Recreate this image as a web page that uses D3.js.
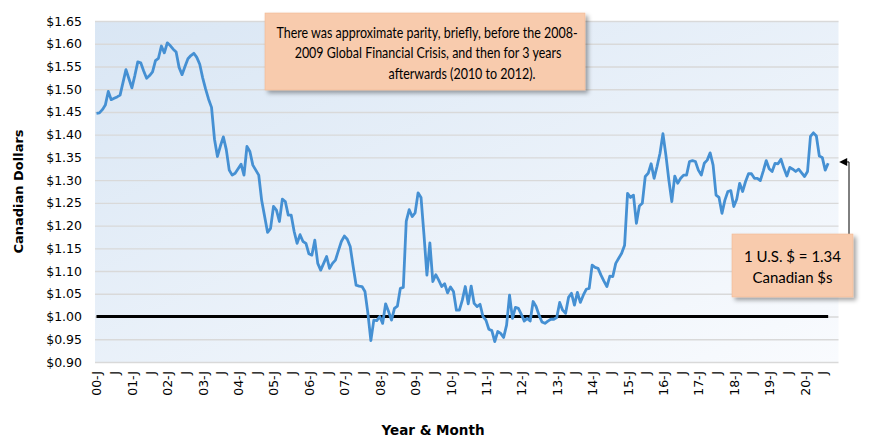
<!DOCTYPE html>
<html>
<head>
<meta charset="utf-8">
<script src="https://cdn.jsdelivr.net/npm/d3@7"></script>
<style>
  body { margin: 0; background: #fff; }
  svg { display: block; }
</style>
</head>
<body>
<div id="chart-container"></div>
<script>
(function() {
  'use strict';

// years on the category axis (monthly points, Jan 2000 .. Dec 2020 slots)
const years = [2000, 2001, 2002, 2003, 2004, 2005, 2006, 2007, 2008, 2009, 2010,
               2011, 2012, 2013, 2014, 2015, 2016, 2017, 2018, 2019, 2020];
const monthInitials = ['J', 'F', 'M', 'A', 'M', 'J', 'J', 'A', 'S', 'O', 'N', 'D'];

// Canadian dollars per U.S. dollar, one value per month from Jan 2000
const rates = [
  1.447, 1.448, 1.455, 1.465, 1.495, 1.477, 1.480, 1.483, 1.487, 1.515, 1.543, 1.523, // 2000
  1.503, 1.530, 1.560, 1.558, 1.540, 1.524, 1.530, 1.538, 1.563, 1.568, 1.595, 1.580, // 2001
  1.602, 1.596, 1.588, 1.582, 1.548, 1.532, 1.550, 1.567, 1.574, 1.579, 1.570, 1.555, // 2002
  1.525, 1.500, 1.478, 1.460, 1.390, 1.352, 1.375, 1.395, 1.367, 1.322, 1.311, 1.315, // 2003
  1.325, 1.335, 1.311, 1.374, 1.363, 1.333, 1.322, 1.311, 1.255, 1.220, 1.185, 1.194, // 2004
  1.242, 1.234, 1.209, 1.258, 1.253, 1.223, 1.223, 1.187, 1.161, 1.180, 1.165, 1.161, // 2005
  1.138, 1.135, 1.168, 1.117, 1.102, 1.117, 1.132, 1.106, 1.117, 1.124, 1.145, 1.165, // 2006
  1.177, 1.170, 1.154, 1.110, 1.069, 1.067, 1.066, 1.055, 1.007, 0.947, 0.992, 0.991, // 2007
  1.000, 0.985, 1.028, 1.011, 0.992, 1.018, 1.023, 1.062, 1.064, 1.210, 1.235, 1.220, // 2008
  1.228, 1.272, 1.262, 1.180, 1.091, 1.162, 1.077, 1.092, 1.080, 1.066, 1.072, 1.052, // 2009
  1.065, 1.055, 1.014, 1.014, 1.036, 1.066, 1.028, 1.067, 1.029, 1.022, 1.027, 1.000, // 2010
  0.992, 0.972, 0.969, 0.945, 0.967, 0.963, 0.954, 0.981, 1.047, 0.996, 1.020, 1.018, // 2011
  1.005, 0.990, 0.996, 0.990, 1.033, 1.022, 1.003, 0.988, 0.985, 0.990, 0.994, 0.994, // 2012
  0.998, 1.031, 1.014, 1.007, 1.042, 1.051, 1.025, 1.053, 1.031, 1.047, 1.060, 1.062, // 2013
  1.113, 1.108, 1.106, 1.091, 1.078, 1.066, 1.089, 1.088, 1.117, 1.128, 1.139, 1.157, // 2014
  1.271, 1.262, 1.267, 1.205, 1.243, 1.249, 1.308, 1.315, 1.336, 1.304, 1.330, 1.359, // 2015
  1.402, 1.355, 1.300, 1.253, 1.309, 1.293, 1.304, 1.311, 1.311, 1.341, 1.343, 1.341, // 2016
  1.322, 1.311, 1.337, 1.344, 1.360, 1.333, 1.267, 1.262, 1.227, 1.256, 1.275, 1.277, // 2017
  1.242, 1.258, 1.293, 1.275, 1.297, 1.314, 1.314, 1.304, 1.304, 1.299, 1.320, 1.343, // 2018
  1.325, 1.319, 1.337, 1.336, 1.346, 1.326, 1.309, 1.328, 1.324, 1.319, 1.324, 1.316, // 2019
  1.308, 1.319, 1.396, 1.404, 1.397, 1.353, 1.350, 1.322, 1.337                        // 2020
];

const parity = 1.00;
const latest = 1.34;

const yTicks = [0.90, 0.95, 1.00, 1.05, 1.10, 1.15, 1.20, 1.25, 1.30, 1.35, 1.40, 1.45, 1.50, 1.55, 1.60, 1.65];

const noteText = [
  'There was approximate parity, briefly, before the 2008-',
  '2009 Global Financial Crisis, and then for 3 years',
  'afterwards (2010 to 2012).'
];
const latestText = ['1 U.S. $ = ' + latest.toFixed(2), 'Canadian $s'];

const W = 870;
const H = 445;
const LEFT = 95;
const RIGHT = 838.5;
const TOP = 21;
const BOTTOM = 362;

const AXIS_FONT = '"DejaVu Sans", sans-serif';
const NOTE_FONT = 'Lato, "Open Sans", sans-serif';

// month keys
const months = [];
years.forEach(function(yr) {
  monthInitials.forEach(function(m, j) { months.push(yr + '-' + j); });
});

const series = rates.map(function(v, i) { return { key: months[i], v: v }; });
const paritySeries = rates.map(function(v, i) { return { key: months[i], v: parity }; });

const xScale = d3.scaleBand().domain(months).range([LEFT, RIGHT]);
const bw = xScale.bandwidth();
const yScale = d3.scaleLinear().domain([0.90, 1.65]).range([BOTTOM, TOP]);

const svg = d3.select('#chart-container')
  .append('svg')
    .attr('width', W)
    .attr('height', H);

const defs = svg.append('defs');
const grad = defs.append('linearGradient')
  .attr('id', 'plotbg')
  .attr('x1', '0%').attr('y1', '0%')
  .attr('x2', '100%').attr('y2', '100%');
grad.append('stop').attr('offset', '0%').attr('stop-color', '#d9e6f4');
grad.append('stop').attr('offset', '100%').attr('stop-color', '#f9fbfe');

const shadow = defs.append('filter')
  .attr('id', 'shadow')
  .attr('x', '-10%').attr('y', '-10%')
  .attr('width', '130%').attr('height', '140%');
shadow.append('feDropShadow')
  .attr('dx', 3).attr('dy', 3)
  .attr('stdDeviation', 2)
  .attr('flood-color', '#000')
  .attr('flood-opacity', 0.35);

// plot background
svg.append('rect')
  .attr('x', LEFT)
  .attr('y', TOP)
  .attr('width', RIGHT - LEFT)
  .attr('height', BOTTOM - TOP)
  .attr('fill', 'url(#plotbg)');

// gridlines
const grid = svg.append('g')
  .attr('transform', `translate(${LEFT}, 0)`)
  .call(d3.axisLeft(yScale).tickValues(yTicks).tickSize(-(RIGHT - LEFT)).tickFormat(''));
grid.select('.domain').remove();
grid.selectAll('line').attr('stroke', '#d9d9d9').attr('stroke-width', 1.4);

// y axis labels
const yAxis = svg.append('g')
  .attr('transform', `translate(${LEFT}, 0)`)
  .call(d3.axisLeft(yScale)
    .tickValues(yTicks)
    .tickSize(0)
    .tickPadding(13)
    .tickFormat(function(d) { return '$' + d.toFixed(2); }));
yAxis.select('.domain').remove();
yAxis.selectAll('text')
  .attr('fill', '#000')
  .style('font-family', AXIS_FONT)
  .style('font-size', '12.5px');

// x axis labels, every 6 months
const tickMonths = months.filter(function(m, i) { return i % 6 === 0; });
const xAxis = svg.append('g')
  .attr('transform', `translate(0, ${BOTTOM})`)
  .call(d3.axisBottom(xScale)
    .tickValues(tickMonths)
    .tickSize(0)
    .tickFormat(function(key) {
      const parts = key.split('-');
      const mi = +parts[1];
      if (mi === 0) return parts[0].slice(2) + '-J';
      return monthInitials[mi];
    }));
xAxis.select('.domain').remove();
xAxis.selectAll('text')
  .attr('transform', 'rotate(-90)')
  .attr('x', -9)
  .attr('y', 0)
  .attr('dy', '0.4em')
  .attr('text-anchor', 'end')
  .attr('fill', '#000')
  .style('font-family', AXIS_FONT)
  .style('font-size', '12.5px');

// parity line
const line = d3.line()
  .x(function(d) { return xScale(d.key) + bw / 2; })
  .y(function(d) { return yScale(d.v); });

svg.append('path')
  .datum(paritySeries)
  .attr('d', line)
  .attr('fill', 'none')
  .attr('stroke', '#000')
  .attr('stroke-width', 3);

// exchange rate
svg.append('path')
  .datum(series)
  .attr('d', line)
  .attr('fill', 'none')
  .attr('stroke', '#4590d3')
  .attr('stroke-width', 2.8)
  .attr('stroke-linejoin', 'round');

// axis titles
svg.append('text')
  .attr('transform', `translate(23, ${(TOP + BOTTOM) / 2}) rotate(-90)`)
  .attr('text-anchor', 'middle')
  .style('font-family', AXIS_FONT)
  .style('font-weight', 'bold')
  .style('font-size', '13px')
  .text('Canadian Dollars');

svg.append('text')
  .attr('x', 433)
  .attr('y', 435)
  .attr('text-anchor', 'middle')
  .style('font-family', AXIS_FONT)
  .style('font-weight', 'bold')
  .style('font-size', '13.5px')
  .text('Year & Month');

// note box
const noteX = [427, 428, 462];
const note = svg.append('g');
note.append('rect')
  .attr('x', 265).attr('y', 13)
  .attr('width', 320).attr('height', 77)
  .attr('fill', '#f8cbad')
  .attr('stroke', '#f1b895')
  .attr('stroke-width', 0.6)
  .attr('filter', 'url(#shadow)');
note.selectAll('text')
  .data(noteText)
  .enter()
  .append('text')
    .attr('transform', function(d, i) { return `translate(${noteX[i]}, ${37.5 + i * 20.5}) scale(0.86, 1)`; })
    .attr('text-anchor', 'middle')
    .style('font-family', NOTE_FONT)
    .style('font-size', '14.5px')
    .attr('fill', '#000')
    .text(function(d) { return d; });

// latest value arrow
const lastX = xScale(months[rates.length - 1]) + bw / 2;
const arrowY = yScale(latest);
svg.append('path')
  .attr('d', `M849,234 L849,${arrowY} L845,${arrowY}`)
  .attr('fill', 'none')
  .attr('stroke', '#000')
  .attr('stroke-width', 1);
svg.append('path')
  .attr('d', `M${lastX + 11},${arrowY} L${lastX + 19},${arrowY - 4} L${lastX + 19},${arrowY + 4} Z`)
  .attr('fill', '#000');

// latest value box
const box = svg.append('g');
box.append('rect')
  .attr('x', 732).attr('y', 234)
  .attr('width', 121).attr('height', 63)
  .attr('fill', '#f8cbad')
  .attr('stroke', '#f1b895')
  .attr('stroke-width', 0.6)
  .attr('filter', 'url(#shadow)');
box.selectAll('text')
  .data(latestText)
  .enter()
  .append('text')
    .attr('x', 792.5)
    .attr('y', function(d, i) { return 262 + i * 20.5; })
    .attr('text-anchor', 'middle')
    .style('font-family', NOTE_FONT)
    .style('font-size', '15px')
    .attr('fill', '#000')
    .text(function(d) { return d; });

})();
</script>
</body>
</html>
